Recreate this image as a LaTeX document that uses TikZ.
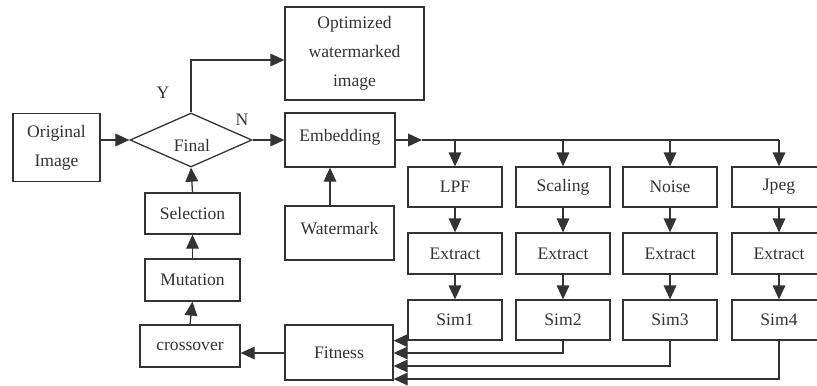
\documentclass[tikz,border=0pt]{standalone}
\usepackage{fontspec}
\setmainfont{Liberation Serif}
\usetikzlibrary{arrows.meta,shapes.geometric}
\begin{document}
\begin{tikzpicture}[x=0.03cm,y=-0.03cm,
  every node/.style={font=\fontsize{15}{25}\selectfont, text=black!80},
  box/.style={draw=black!80, line width=1.1pt, inner sep=0pt, align=center},
  ln/.style={draw=black!80, line width=1.1pt},
  arr/.style={ln, -{Triangle[length=0.42cm,width=0.38cm]}},
  lbl/.style={inner sep=0pt}]
\useasboundingbox[fill=white] (0,0) rectangle (817,385);
% left column
\node[box, minimum width=2.61cm, minimum height=2.04cm] (orig) at (56.5,147.5) {Original\\Image};
\node[box, shape=diamond, minimum width=3.66cm, minimum height=1.62cm] (dia) at (191,140) {};
\node[lbl] (final) at (192,145) {Final};
\node[box, minimum width=4.17cm, minimum height=2.79cm] (opt) at (354.5,53.5) {Optimized\\watermarked\\image};
\node[box, minimum width=3.3cm, minimum height=1.62cm] (emb) at (340,140) {\raisebox{8pt}{Embedding}};
\node[box, minimum width=3.27cm, minimum height=1.62cm] (wm) at (339.5,233) {\raisebox{8pt}{Watermark}};
\node[box, minimum width=2.85cm, minimum height=1.23cm] (sel) at (192.5,213.5) {Selection};
\node[box, minimum width=2.85cm, minimum height=1.26cm] (mut) at (192.5,280) {Mutation};
\node[box, minimum width=3.0cm, minimum height=1.26cm] (cross) at (190,346) {crossover};
\node[box, minimum width=3.24cm, minimum height=1.65cm] (fit) at (339,352.5) {Fitness};
\node[lbl] (ylab) at (163,93) {Y};
\node[lbl] (nlab) at (242,120) {N};
% attack columns
\node[box, minimum width=2.82cm, minimum height=1.2cm] (lpf) at (455,187) {LPF};
\node[box, minimum width=2.82cm, minimum height=1.2cm] (sca) at (563,187) {Scaling};
\node[box, minimum width=2.82cm, minimum height=1.2cm] (noi) at (670,187) {Noise};
\node[box, minimum width=2.82cm, minimum height=1.2cm] (jpg) at (779,187) {Jpeg};
\node[box, minimum width=2.82cm, minimum height=1.23cm] (ex1) at (455,253.5) {Extract};
\node[box, minimum width=2.82cm, minimum height=1.23cm] (ex2) at (563,253.5) {Extract};
\node[box, minimum width=2.82cm, minimum height=1.23cm] (ex3) at (670,253.5) {Extract};
\node[box, minimum width=2.82cm, minimum height=1.23cm] (ex4) at (779,253.5) {Extract};
\node[box, minimum width=2.82cm, minimum height=1.2cm] (s1) at (455,320) {Sim1};
\node[box, minimum width=2.82cm, minimum height=1.2cm] (s2) at (563,320) {Sim2};
\node[box, minimum width=2.82cm, minimum height=1.2cm] (s3) at (670,320) {Sim3};
\node[box, minimum width=2.82cm, minimum height=1.2cm] (s4) at (779,320) {Sim4};
% coordinates
\coordinate (ycorner) at (191,60);
\coordinate (bustip) at (422,140);
\coordinate (busend) at (779,140);
\coordinate (r2) at (0,353);
\coordinate (r3) at (0,366);
\coordinate (r4) at (0,379);
% connectors
\draw[arr] (orig.east |- dia.west) -- (dia.west);
\draw[arr] (dia.east) -- (emb.west);
\draw[arr] (dia.north) -- (ycorner) -- (opt.west |- ycorner);
\draw[arr] (wm.north -| 330,0) -- (emb.south -| 330,0);
\draw[arr] (sel.north) -- (dia.south);
\draw[arr] (mut.north) -- (sel.south);
\draw[arr] (cross.north) -- (mut.south);
\draw[arr] (emb.east) -- (bustip);
\draw[ln] (bustip) -- (busend);
\foreach \a/\b/\c in {lpf/ex1/s1, sca/ex2/s2, noi/ex3/s3, jpg/ex4/s4}{
  \draw[arr] (\a.north |- bustip) -- (\a.north);
  \draw[arr] (\a.south) -- (\b.north);
  \draw[arr] (\b.south) -- (\c.north);
}
\draw[arr] (s1.south west) -- (fit.east |- s1.south west);
\draw[arr] (s2.south) |- (fit.east |- r2);
\draw[arr] (s3.south) |- (fit.east |- r3);
\draw[arr] (s4.south) |- (fit.east |- r4);
\draw[arr] (fit.west |- r2) -- (cross.east |- r2);
\end{tikzpicture}
\end{document}
